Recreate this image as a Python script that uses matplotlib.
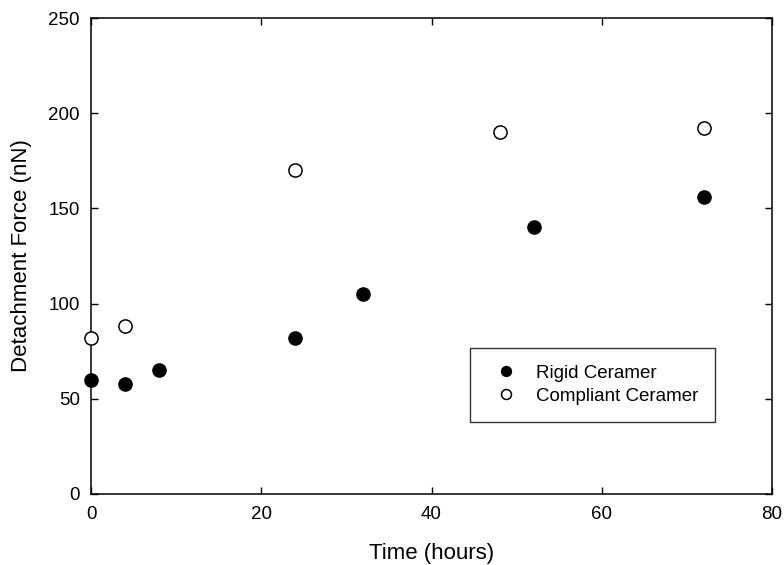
import numpy as np
import matplotlib.pyplot as plt

plt.rcParams['font.family'] = ['Liberation Sans', 'DejaVu Sans']

# detachment force vs. time for the two coatings
rigid_t = [0, 4, 8, 24, 32, 52, 72]
rigid_f = [60, 58, 65, 82, 105, 140, 156]
compliant_t = [0, 4, 24, 48, 72]
compliant_f = [82, 88, 170, 190, 192]

fig = plt.figure(figsize=(7.84, 5.65), dpi=100)
ax = fig.add_axes([0.1161, 0.1257, 0.8686, 0.8424])

ax.plot(rigid_t, rigid_f, 'o', color='black', markersize=9.5,
        label='Rigid Ceramer', clip_on=False, zorder=3)
ax.plot(compliant_t, compliant_f, 'o', markerfacecolor='white',
        markeredgecolor='black', markeredgewidth=1.1, markersize=9.5,
        label='Compliant Ceramer', clip_on=False, zorder=3)

ax.set_xlim(0, 80)
ax.set_ylim(0, 250)
ax.set_xticks(np.arange(0, 81, 20))
ax.set_yticks(np.arange(0, 251, 50))
ax.tick_params(direction='in', top=True, right=True, length=5, width=1,
               labelsize=13.5)
ax.tick_params(axis='x', pad=9)
ax.tick_params(axis='y', pad=8)
for s in ax.spines.values():
    s.set_linewidth(1.1)

ax.set_xlabel('Time (hours)', fontsize=16, labelpad=14)
ax.set_ylabel('Detachment Force (nN)', fontsize=16, labelpad=12)

leg = ax.legend(loc='upper left', bbox_to_anchor=(0.5565, 0.1555, 0.3598, 0.1512),
                mode='expand', fancybox=False, edgecolor='black', fontsize=13.5,
                markerscale=0.75, borderpad=0.9, handletextpad=0.6,
                labelspacing=0.3, borderaxespad=0)
leg.get_frame().set_linewidth(1.0)

fig.savefig('out.png', dpi=100)
